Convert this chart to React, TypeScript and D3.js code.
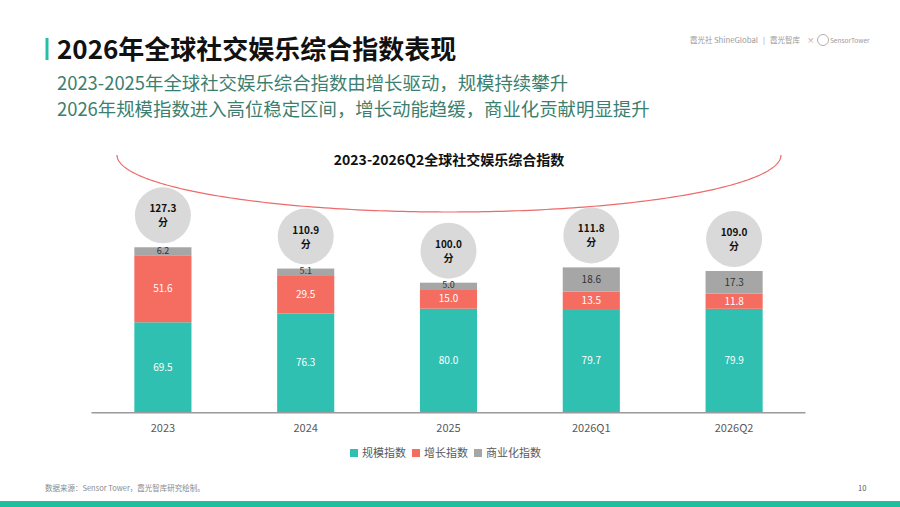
import React from "react";
import * as d3 from "d3";

const categories = ["2023", "2024", "2025", "2026Q1", "2026Q2"];
const scaleIndex = [69.5, 76.3, 80.0, 79.7, 79.9];
const growthIndex = [51.6, 29.5, 15.0, 13.5, 11.8];
const commerceIndex = [6.2, 5.1, 5.0, 18.6, 17.3];
const totals = ["127.3", "110.9", "100.0", "111.8", "109.0"];
const seriesNames = ["规模指数", "增长指数", "商业化指数"];
const colors = ["#30C0B2", "#F56C60", "#A6A6A6"];

const FONT = "'Noto Sans CJK SC', 'Noto Sans', sans-serif";

export default function App() {
  const W = 900;
  const H = 507;
  const x = d3
    .scaleBand<string>()
    .domain(categories)
    .range([91.5, 805.5])
    .paddingInner(0.6)
    .paddingOuter(0.3);
  const y = d3.scaleLinear().domain([0, 140]).range([412.5, 412.5 - 140 * 1.298]);

  const rows = categories.map((c, i) => ({
    cat: c,
    s: scaleIndex[i],
    g: growthIndex[i],
    c: commerceIndex[i],
  }));
  const stack = d3.stack<any>().keys(["s", "g", "c"])(rows);
  const labelColors = ["#ffffff", "#ffffff", "#333333"];

  const arcPath = (() => {
    const cx = 449, cy = 155, rx = 332, ry = 57;
    const pts: [number, number][] = d3.range(0, 181).map((deg) => {
      const t = (deg * Math.PI) / 180;
      return [cx - rx * Math.cos(t), cy + ry * Math.sin(t)];
    });
    return d3.line()(pts) || "";
  })();

  const legendX = [350, 412, 474];

  return (
    <svg width={W} height={H} style={{ position: "absolute", left: 0, top: 0 }} fontFamily={FONT}>
      <rect x={0} y={0} width={W} height={H} fill="#ffffff" />
      {/* header */}
      <rect x={45.5} y={38} width={3} height={22} fill="#23BFA6" />
      <text x={57} y={59} fontSize={26} fontWeight={700} fill="#111">
        2026年全球社交娱乐综合指数表现
      </text>
      <text x={57} y={90} fontSize={18.4} fill="#3C7F70">
        2023-2025年全球社交娱乐综合指数由增长驱动，规模持续攀升
      </text>
      <text x={57} y={116} fontSize={18.4} fill="#3C7F70">
        2026年规模指数进入高位稳定区间，增长动能趋缓，商业化贡献明显提升
      </text>
      <g fill="#9a9a9a" fontSize={7.5}>
        <text x={690} y={43}>霞光社</text>
        <text x={714} y={43} textLength={44} lengthAdjust="spacingAndGlyphs">ShineGlobal</text>
        <text x={763} y={43}>|</text>
        <text x={770} y={43}>霞光智库</text>
        <text x={807} y={43}>×</text>
        <circle cx={823} cy={40} r={5.5} fill="none" stroke="#9a9a9a" strokeWidth={0.8} />
        <text x={830} y={43} fontSize={6.5}>SensorTower</text>
      </g>

      {/* arc + chart title */}
      <path d={arcPath} fill="none" stroke="#EE6A6A" strokeWidth={1.2} />
      <text x={449} y={165} textAnchor="middle" fontSize={14} fontWeight={700} fill="#111">
        2023-2026Q2全球社交娱乐综合指数
      </text>

      {/* bars */}
      {stack.map((layer, li) => (
        <g key={li}>
          {layer.map((d: any, i: number) => {
            const x0 = x(categories[i])!;
            const top = y(d[1]);
            const bot = y(d[0]);
            const small = bot - top < 10;
            return (
              <g key={i}>
                <rect x={x0} y={top} width={x.bandwidth()} height={bot - top} fill={colors[li]} />
                <text
                  x={x0 + x.bandwidth() / 2}
                  y={(top + bot) / 2 + (small ? 2.5 : 3.5)}
                  textAnchor="middle"
                  fontSize={small ? 9 : 10}
                  fill={labelColors[li]}
                >
                  {(d[1] - d[0]).toFixed(1)}
                </text>
              </g>
            );
          })}
        </g>
      ))}

      {/* total circles */}
      {rows.map((r, i) => {
        const cx = x(r.cat)! + x.bandwidth() / 2;
        const top = y(r.s + r.g + r.c);
        const rad = 28;
        const cy = top - 4 - rad;
        return (
          <g key={i}>
            <circle cx={cx} cy={cy} r={rad} fill="#D9D9D9" />
            <text x={cx} y={cy - 3} textAnchor="middle" fontSize={10} fontWeight={700} fill="#111">
              {totals[i]}
            </text>
            <text x={cx} y={cy + 11} textAnchor="middle" fontSize={10} fontWeight={700} fill="#111">
              分
            </text>
          </g>
        );
      })}

      {/* axis */}
      <line x1={91.5} x2={805.5} y1={412.7} y2={412.7} stroke="#9a9a9a" strokeWidth={1.5} />
      {categories.map((c) => (
        <text
          key={c}
          x={x(c)! + x.bandwidth() / 2}
          y={432}
          textAnchor="middle"
          fontSize={11}
          fill="#595959"
        >
          {c}
        </text>
      ))}

      {/* legend */}
      {seriesNames.map((n, i) => (
        <g key={n}>
          <rect x={legendX[i]} y={449} width={8} height={8} fill={colors[i]} />
          <text x={legendX[i] + 12} y={457} fontSize={11} fill="#595959">
            {n}
          </text>
        </g>
      ))}

      {/* footer */}
      <text x={45} y={491} fontSize={7.5} fill="#8a8a8a">
        数据来源：Sensor Tower，霞光智库研究绘制。
      </text>
      <text x={858} y={491} fontSize={7.5} fill="#555">
        10
      </text>
      <rect x={0} y={501} width={W} height={6} fill="#1DBF9E" />
    </svg>
  );
}
